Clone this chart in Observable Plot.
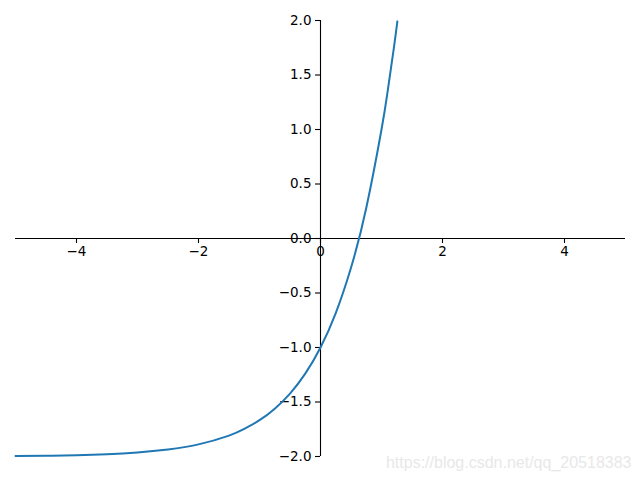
<!DOCTYPE html>
<html>
<head>
<meta charset="utf-8">
<script src="https://cdn.jsdelivr.net/npm/d3@7"></script>
<script src="https://cdn.jsdelivr.net/npm/@observablehq/plot@0.6"></script>
<style>
  html, body { margin: 0; padding: 0; background: #fff; }
  #chart { width: 640px; height: 480px; }
</style>
</head>
<body>
<div id="chart"></div>
<script>
// Curve points
const xs = [-5, -4.5, -4, -3.5, -3, -2.5, -2, -1.5, -1.25, -1, -0.75, -0.5, -0.25, 0, 0.25, 0.5, 0.75, 1, 1.1, 1.2, 1.26];
const ys = [-1.996, -1.993, -1.988, -1.979, -1.963, -1.936, -1.889, -1.808, -1.747, -1.667, -1.561, -1.423, -1.240, -1.0, -0.684, -0.268, 0.280, 1.0, 1.348, 1.737, 1.992];

const xTicks = [-4, -2, 0, 2, 4];
const xTickLabels = ["\u22124", "\u22122", "0", "2", "4"];
const yTicks = [-2, -1.5, -1, -0.5, 0, 0.5, 1, 1.5, 2];
const yTickLabels = ["\u22122.0", "\u22121.5", "\u22121.0", "\u22120.5", "0.0", "0.5", "1.0", "1.5", "2.0"];
const watermark = "https://blog.csdn.net/qq_20518383";

const points = xs.map((x, i) => ({x, y: ys[i]}));

const W = 640, H = 480;
const mL = 15, mR = 15, mT = 20, mB = 24;
const plotW = W - mL - mR, plotH = H - mT - mB;
const xScale = d3.scaleLinear([-5, 5], [0, plotW]);
const yScale = d3.scaleLinear([-2, 2], [plotH, 0]);
const x0 = xScale(0), y0 = yScale(0);
const tickLen = 5;
const font = "DejaVu Sans, sans-serif";

const chart = Plot.plot({
  width: W,
  height: H,
  marginLeft: mL,
  marginRight: mR,
  marginTop: mT,
  marginBottom: mB,
  style: {fontFamily: font, fontSize: "13.5px", background: "white", overflow: "visible"},
  x: {domain: [-5, 5], axis: null},
  y: {domain: [-2, 2], axis: null},
  marks: [
    // spines
    Plot.ruleY([0], {stroke: "black", strokeWidth: 1.1}),
    Plot.ruleX([0], {stroke: "black", strokeWidth: 1.1}),
    // x ticks (below the horizontal spine)
    Plot.tickX(xTicks, {x: d => d, stroke: "black", strokeWidth: 1.1,
      insetTop: y0, insetBottom: plotH - y0 - tickLen}),
    // y ticks (left of the vertical spine)
    Plot.tickY(yTicks, {y: d => d, stroke: "black", strokeWidth: 1.1,
      insetLeft: x0 - tickLen, insetRight: plotW - x0}),
    // x tick labels
    Plot.text(xTicks, {x: d => d, y: 0, text: (d, i) => xTickLabels[i],
      dy: 13, fill: "black", textAnchor: "middle", lineAnchor: "middle", fontSize: 13.5}),
    // y tick labels
    Plot.text(yTicks, {x: 0, y: d => d, text: (d, i) => yTickLabels[i],
      dx: -9, fill: "black", textAnchor: "end", lineAnchor: "middle", fontSize: 13.5}),
    // curve
    Plot.line(points, {x: "x", y: "y", stroke: "#1f77b4", strokeWidth: 2, curve: "natural"}),
    // watermark
    Plot.text([watermark], {frameAnchor: "bottom-right", text: d => d, dx: 6, dy: 6,
      fill: "#e8e8e8", fontSize: 16, fontFamily: "Liberation Sans, Arial, sans-serif", lineAnchor: "middle"})
  ]
});
document.getElementById("chart").appendChild(chart);
</script>
</body>
</html>
